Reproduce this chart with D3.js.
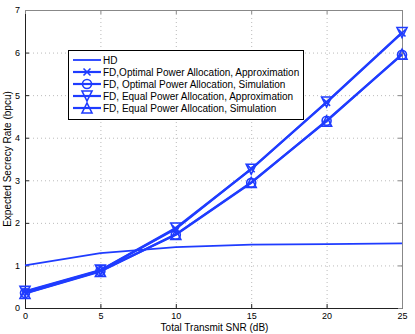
<!DOCTYPE html>
<html>
<head>
<meta charset="utf-8">
<script src="https://cdn.jsdelivr.net/npm/d3@7"></script>
<style>
  body { margin: 0; background: #fff; }
  text { font-family: "Liberation Sans", Arial, sans-serif; }
</style>
</head>
<body>
<div id="chart"></div>
<script>
const snr = [0, 5, 10, 15, 20, 25];
const hd = [1.0, 1.29, 1.43, 1.49, 1.50, 1.52];
const optApprox = [0.38, 0.88, 1.86, 3.27, 4.83, 6.46];
const optSim = [0.35, 0.87, 1.72, 2.94, 4.40, 5.95];
const eqApprox = [0.39, 0.89, 1.88, 3.26, 4.84, 6.47];
const eqSim = [0.34, 0.86, 1.73, 2.95, 4.39, 5.96];
const xTicks = [0, 5, 10, 15, 20, 25];
const yTicks = [0, 1, 2, 3, 4, 5, 6, 7];
const legendLabels = [
    "HD",
    "FD,Optimal Power Allocation, Approximation",
    "FD, Optimal Power Allocation, Simulation",
    "FD, Equal Power Allocation, Approximation",
    "FD, Equal Power Allocation, Simulation"
];

window.onload = function () {
    const w = 415, h = 334;
    const left = 25, right = 402, top = 10, bottom = 308;
    const blue = "#1f3cff";

    const x = d3.scaleLinear().domain([0, 25]).range([left, right]);
    const y = d3.scaleLinear().domain([0, 7]).range([bottom, top]);

    const svg = d3.select("#chart").append("svg")
        .attr("width", w).attr("height", h);

    // grid
    svg.append("g").selectAll("line")
        .data(xTicks.slice(1, -1)).enter().append("line")
        .attr("x1", d => x(d) + 0.5).attr("x2", d => x(d) + 0.5)
        .attr("y1", top).attr("y2", bottom)
        .attr("stroke", "#bbb").attr("stroke-width", 1)
        .attr("stroke-dasharray", "1,3");
    svg.append("g").selectAll("line")
        .data(yTicks.slice(1, -1)).enter().append("line")
        .attr("y1", d => y(d) + 0.5).attr("y2", d => y(d) + 0.5)
        .attr("x1", left).attr("x2", right)
        .attr("stroke", "#bbb").attr("stroke-width", 1)
        .attr("stroke-dasharray", "1,3");

    // axes
    const xAxis = svg.append("g").attr("transform", `translate(0,${bottom})`)
        .call(d3.axisBottom(x).tickValues(xTicks).tickFormat(d3.format("d")).tickSize(-4).tickPadding(5));
    const yAxis = svg.append("g").attr("transform", `translate(${left},0)`)
        .call(d3.axisLeft(y).tickValues(yTicks).tickFormat(d3.format("d")).tickSize(-4).tickPadding(5));
    svg.append("g").attr("transform", `translate(0,${top})`)
        .call(d3.axisTop(x).tickValues(xTicks).tickSize(-4).tickFormat(""))
        .selectAll("path,line").attr("stroke", "#888");
    svg.append("g").attr("transform", `translate(${right},0)`)
        .call(d3.axisRight(y).tickValues(yTicks).tickSize(-4).tickFormat(""))
        .selectAll("path,line").attr("stroke", "#888");
    [xAxis, yAxis].forEach(a => {
        a.selectAll("text").attr("font-size", 9).attr("fill", "#000")
            .style("font-family", "Liberation Sans, Arial, sans-serif");
        a.selectAll("path,line").attr("stroke", "#222");
    });

    // axis labels
    svg.append("text").attr("x", (left + right) / 2 + 1).attr("y", 331)
        .attr("text-anchor", "middle").attr("font-size", 10)
        .text("Total Transmit SNR (dB)");
    svg.append("text")
        .attr("transform", `translate(11,${(top + bottom) / 2}) rotate(-90)`)
        .attr("text-anchor", "middle").attr("font-size", 10)
        .text("Expected Secrecy Rate (bpcu)");

    const line = d3.line().x((d, i) => x(snr[i])).y(d => y(d));

    const series = [
        { values: hd, marker: null, width: 1.8 },
        { values: optApprox, marker: "x", width: 2.2 },
        { values: optSim, marker: "o", width: 2.2 },
        { values: eqApprox, marker: "v", width: 2.2 },
        { values: eqSim, marker: "^", width: 2.2 }
    ];

    function drawMarker(g, type, cx, cy) {
        const s = 5;
        let d;
        if (type === "x") {
            d = `M${cx - 3.5},${cy - 3.5}L${cx + 3.5},${cy + 3.5}M${cx - 3.5},${cy + 3.5}L${cx + 3.5},${cy - 3.5}`;
        } else if (type === "v") {
            d = `M${cx - s},${cy - s}L${cx + s},${cy - s}L${cx},${cy + s}Z`;
        } else if (type === "^") {
            d = `M${cx - s},${cy + s}L${cx + s},${cy + s}L${cx},${cy - s}Z`;
        }
        if (type === "o") {
            g.append("circle").attr("cx", cx).attr("cy", cy).attr("r", 4.5)
                .attr("stroke", blue).attr("stroke-width", 1.6).attr("fill", "none");
        } else {
            g.append("path").attr("d", d)
                .attr("stroke", blue).attr("stroke-width", 1.6).attr("fill", "none");
        }
    }

    series.forEach(s => {
        svg.append("path").datum(s.values)
            .attr("d", line).attr("fill", "none")
            .attr("stroke", blue).attr("stroke-width", s.width);
        if (s.marker) {
            const g = svg.append("g");
            s.values.forEach((v, i) => drawMarker(g, s.marker, x(snr[i]), y(v)));
        }
    });

    // legend
    const lx = 68, ly = 50, lw = 235, lh = 69;
    svg.append("rect").attr("x", lx + 0.5).attr("y", ly + 0.5)
        .attr("width", lw).attr("height", lh)
        .attr("fill", "#fff").attr("stroke", "#000").attr("stroke-width", 1);
    const rowY = d3.scaleLinear().domain([0, 4]).range([ly + 10, ly + 58]);
    series.forEach((s, i) => {
        const ry = rowY(i);
        svg.append("line").attr("x1", lx + 5).attr("x2", lx + 33)
            .attr("y1", ry).attr("y2", ry)
            .attr("stroke", blue).attr("stroke-width", s.width);
        if (s.marker) drawMarker(svg.append("g"), s.marker, lx + 19, ry);
        svg.append("text").attr("x", lx + 35).attr("y", ry + 3.5)
            .attr("font-size", 10).attr("fill", "#000")
            .text(legendLabels[i]);
    });
};
</script>
</body>
</html>
